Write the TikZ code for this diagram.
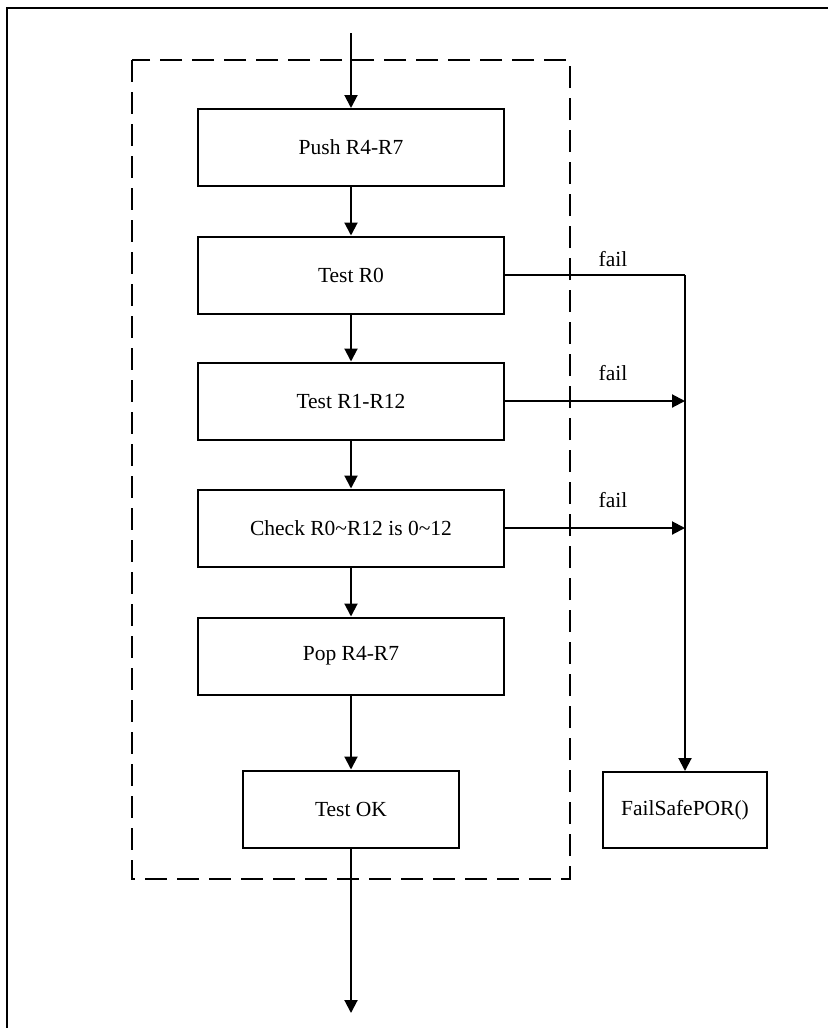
\documentclass[tikz,border=0pt]{standalone}
\usepackage{fontspec}
\setmainfont{Liberation Serif}
\usetikzlibrary{arrows.meta}

\tikzset{
  stepbox/.style={draw=black, line width=2pt, fill=white, inner sep=0pt,
    minimum width=306pt, minimum height=77pt,
    font=\fontsize{21.5}{26}\selectfont},
  flow/.style={line width=2pt, -{Triangle[length=13pt, width=13pt]}},
  plain/.style={line width=2pt},
  faillabel/.style={font=\fontsize{21.5}{26}\selectfont, inner sep=0pt},
  group/.style={draw=black, line width=2pt, dash pattern=on 22pt off 10pt}
}

\begin{document}
\begin{tikzpicture}[x=1pt, y=-1pt]
  % page extent
  \useasboundingbox[fill=white] (0,0) rectangle (828,1028);

  % outer frame (left and top edges)
  \draw[line width=1.5pt] (7,1028) -- (7,8) -- (828,8);

  % dashed group around the register test
  \draw[group] (132,60) rectangle (570,879);

  % process steps
  \node[stepbox] (push)  at (351,147.5) {Push R4-R7};
  \node[stepbox] (r0)    at (351,275)   {Test R0};
  \node[stepbox] (r112)  at (351,401)   {Test R1-R12};
  \node[stepbox] (check) at (351,528)   {Check R0\char`~R12 is 0\char`~12};
  \node[stepbox] (pop)   at (351,656)   {Pop R4-R7};
  \node[stepbox, minimum width=216pt] (ok) at (351,809) {Test OK};
  \node[stepbox, minimum width=164pt, minimum height=76pt] (fsafe) at (685,810) {FailSafePOR()};

  % entry and exit
  \coordinate (entry) at (351,33);
  \coordinate (exit)  at (351,1013);
  \draw[flow] (entry) -- (push.north);
  \draw[flow] (ok.south) -- (exit);

  % main sequence
  \draw[flow] (push) -- (r0);
  \draw[flow] (r0) -- (r112);
  \draw[flow] (r112) -- (check);
  \draw[flow] (check) -- (pop);
  \draw[flow] (pop) -- (ok);

  % failure paths
  \coordinate (bus0) at (685,275);
  \coordinate (bus1) at (685,401);
  \coordinate (bus2) at (685,528);
  \draw[plain] (r0.east) -- (bus0);
  \draw[flow] (bus0) -- (fsafe.north);
  \draw[flow] (r112.east) -- (bus1);
  \draw[flow] (check.east) -- (bus2);

  \node[faillabel] (f0) at (613,259) {fail};
  \node[faillabel] (f1) at (613,373) {fail};
  \node[faillabel] (f2) at (613,500) {fail};
\end{tikzpicture}
\end{document}
